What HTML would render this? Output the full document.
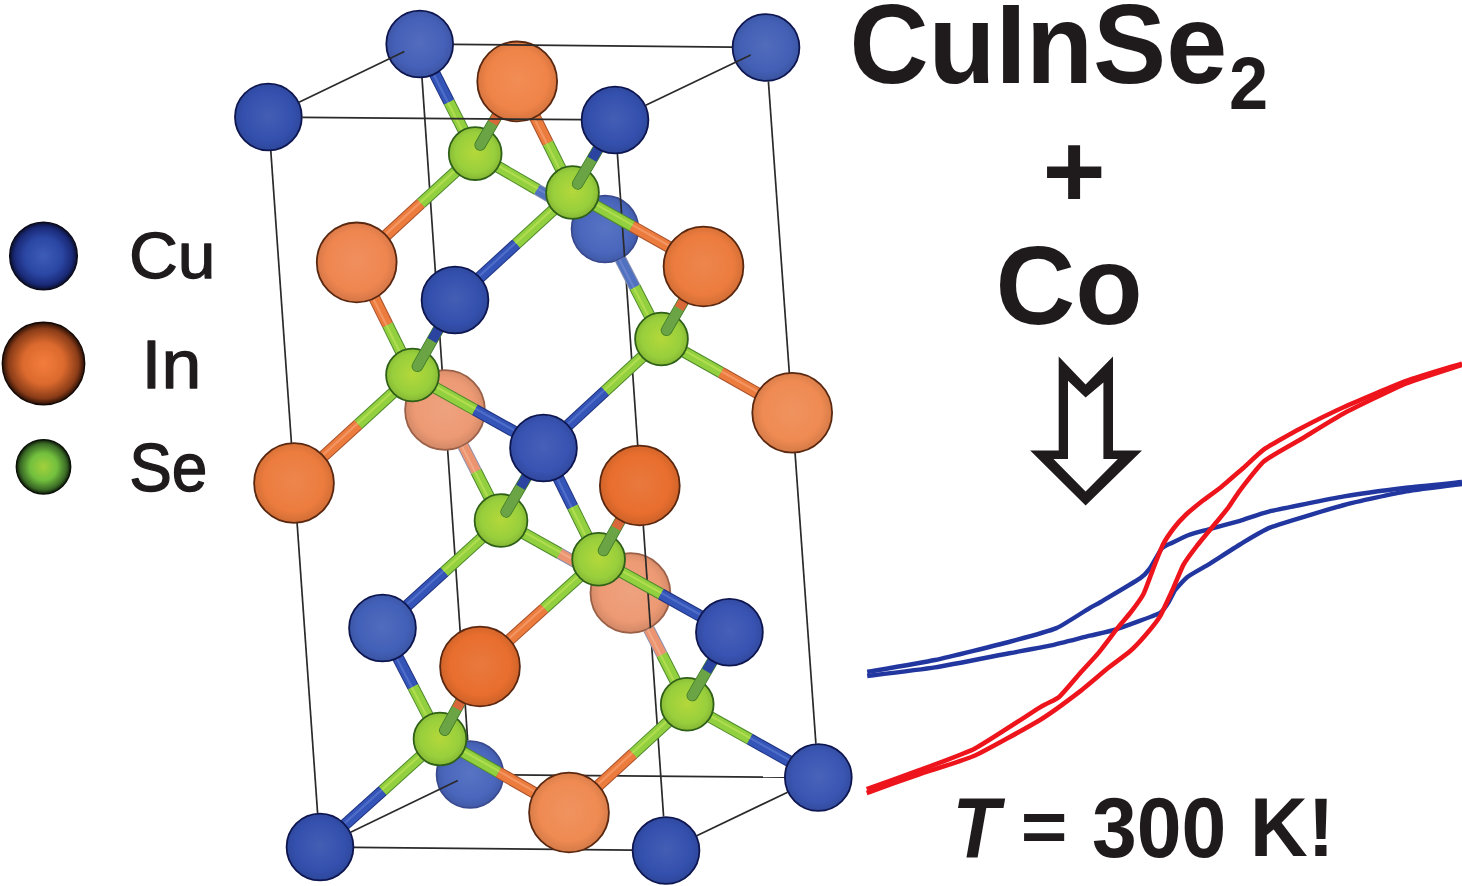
<!DOCTYPE html>
<html><head><meta charset="utf-8"><style>
html,body{margin:0;padding:0;background:#fff;}
body{width:1462px;height:886px;overflow:hidden;}
svg{display:block;}
text{font-family:"Liberation Sans",sans-serif;fill:#1f1b1c;}
</style></head><body>
<svg width="1462" height="886" viewBox="0 0 1462 886">
<defs>
<radialGradient id="g_A" cx="0.5" cy="0.48" r="0.5"><stop offset="0" stop-color="#445eb4"/><stop offset="0.75" stop-color="#3450ae"/><stop offset="1" stop-color="#2e489c"/></radialGradient>
<radialGradient id="g_B" cx="0.5" cy="0.48" r="0.5"><stop offset="0" stop-color="#536cbd"/><stop offset="0.75" stop-color="#4560b8"/><stop offset="1" stop-color="#3e56a5"/></radialGradient>
<radialGradient id="g_C" cx="0.5" cy="0.48" r="0.5"><stop offset="0" stop-color="#445eb4"/><stop offset="0.75" stop-color="#3450ae"/><stop offset="1" stop-color="#2e489c"/></radialGradient>
<radialGradient id="g_D" cx="0.5" cy="0.48" r="0.5"><stop offset="0" stop-color="#526cbb"/><stop offset="0.75" stop-color="#4360b6"/><stop offset="1" stop-color="#3c56a3"/></radialGradient>
<radialGradient id="g_E" cx="0.5" cy="0.48" r="0.5"><stop offset="0" stop-color="#5873c2"/><stop offset="0.75" stop-color="#4a67bd"/><stop offset="1" stop-color="#425caa"/></radialGradient>
<radialGradient id="g_F" cx="0.5" cy="0.48" r="0.5"><stop offset="0" stop-color="#445eb4"/><stop offset="0.75" stop-color="#3450ae"/><stop offset="1" stop-color="#2e489c"/></radialGradient>
<radialGradient id="g_G" cx="0.5" cy="0.48" r="0.5"><stop offset="0" stop-color="#4760b8"/><stop offset="0.75" stop-color="#3853b2"/><stop offset="1" stop-color="#324aa0"/></radialGradient>
<radialGradient id="g_H" cx="0.5" cy="0.48" r="0.5"><stop offset="0" stop-color="#516cbd"/><stop offset="0.75" stop-color="#4260b8"/><stop offset="1" stop-color="#3b56a5"/></radialGradient>
<radialGradient id="g_I" cx="0.5" cy="0.48" r="0.5"><stop offset="0" stop-color="#4760b8"/><stop offset="0.75" stop-color="#3853b2"/><stop offset="1" stop-color="#324aa0"/></radialGradient>
<radialGradient id="g_J" cx="0.5" cy="0.48" r="0.5"><stop offset="0" stop-color="#5873c2"/><stop offset="0.75" stop-color="#4a67bd"/><stop offset="1" stop-color="#425caa"/></radialGradient>
<radialGradient id="g_K" cx="0.5" cy="0.48" r="0.5"><stop offset="0" stop-color="#445eb4"/><stop offset="0.75" stop-color="#3450ae"/><stop offset="1" stop-color="#2e489c"/></radialGradient>
<radialGradient id="g_L" cx="0.5" cy="0.48" r="0.5"><stop offset="0" stop-color="#445eb4"/><stop offset="0.75" stop-color="#3450ae"/><stop offset="1" stop-color="#2e489c"/></radialGradient>
<radialGradient id="g_M" cx="0.5" cy="0.48" r="0.5"><stop offset="0" stop-color="#4963b9"/><stop offset="0.75" stop-color="#3a56b3"/><stop offset="1" stop-color="#344da1"/></radialGradient>
<radialGradient id="g_a" cx="0.5" cy="0.48" r="0.5"><stop offset="0" stop-color="#f18d56"/><stop offset="0.75" stop-color="#f08448"/><stop offset="1" stop-color="#d87640"/></radialGradient>
<radialGradient id="g_b" cx="0.5" cy="0.48" r="0.5"><stop offset="0" stop-color="#f08f5e"/><stop offset="0.75" stop-color="#ef8650"/><stop offset="1" stop-color="#d77848"/></radialGradient>
<radialGradient id="g_c" cx="0.5" cy="0.48" r="0.5"><stop offset="0" stop-color="#ed864d"/><stop offset="0.75" stop-color="#ec7c3e"/><stop offset="1" stop-color="#d46f37"/></radialGradient>
<radialGradient id="g_d" cx="0.5" cy="0.48" r="0.5"><stop offset="0" stop-color="#eea27f"/><stop offset="0.75" stop-color="#ed9a74"/><stop offset="1" stop-color="#d58a68"/></radialGradient>
<radialGradient id="g_e" cx="0.5" cy="0.48" r="0.5"><stop offset="0" stop-color="#f0935f"/><stop offset="0.75" stop-color="#ef8a52"/><stop offset="1" stop-color="#d77c49"/></radialGradient>
<radialGradient id="g_f" cx="0.5" cy="0.48" r="0.5"><stop offset="0" stop-color="#ed864d"/><stop offset="0.75" stop-color="#ec7c3e"/><stop offset="1" stop-color="#d46f37"/></radialGradient>
<radialGradient id="g_g" cx="0.5" cy="0.48" r="0.5"><stop offset="0" stop-color="#e9793e"/><stop offset="0.75" stop-color="#e86e2e"/><stop offset="1" stop-color="#d06329"/></radialGradient>
<radialGradient id="g_h" cx="0.5" cy="0.48" r="0.5"><stop offset="0" stop-color="#eea27f"/><stop offset="0.75" stop-color="#ed9a74"/><stop offset="1" stop-color="#d58a68"/></radialGradient>
<radialGradient id="g_i" cx="0.5" cy="0.48" r="0.5"><stop offset="0" stop-color="#e9793e"/><stop offset="0.75" stop-color="#e86e2e"/><stop offset="1" stop-color="#d06329"/></radialGradient>
<radialGradient id="g_j" cx="0.5" cy="0.48" r="0.5"><stop offset="0" stop-color="#f0935f"/><stop offset="0.75" stop-color="#ef8a52"/><stop offset="1" stop-color="#d77c49"/></radialGradient>
<radialGradient id="g_1" cx="0.5" cy="0.48" r="0.5"><stop offset="0" stop-color="#b4d83a"/><stop offset="0.75" stop-color="#98cf3c"/><stop offset="1" stop-color="#88ba36"/></radialGradient>
<radialGradient id="g_2" cx="0.5" cy="0.48" r="0.5"><stop offset="0" stop-color="#b4d83a"/><stop offset="0.75" stop-color="#98cf3c"/><stop offset="1" stop-color="#88ba36"/></radialGradient>
<radialGradient id="g_3" cx="0.5" cy="0.48" r="0.5"><stop offset="0" stop-color="#b4d83a"/><stop offset="0.75" stop-color="#98cf3c"/><stop offset="1" stop-color="#88ba36"/></radialGradient>
<radialGradient id="g_4" cx="0.5" cy="0.48" r="0.5"><stop offset="0" stop-color="#b4d83a"/><stop offset="0.75" stop-color="#98cf3c"/><stop offset="1" stop-color="#88ba36"/></radialGradient>
<radialGradient id="g_5" cx="0.5" cy="0.48" r="0.5"><stop offset="0" stop-color="#b4d83a"/><stop offset="0.75" stop-color="#98cf3c"/><stop offset="1" stop-color="#88ba36"/></radialGradient>
<radialGradient id="g_6" cx="0.5" cy="0.48" r="0.5"><stop offset="0" stop-color="#b4d83a"/><stop offset="0.75" stop-color="#98cf3c"/><stop offset="1" stop-color="#88ba36"/></radialGradient>
<radialGradient id="g_7" cx="0.5" cy="0.48" r="0.5"><stop offset="0" stop-color="#b4d83a"/><stop offset="0.75" stop-color="#98cf3c"/><stop offset="1" stop-color="#88ba36"/></radialGradient>
<radialGradient id="g_8" cx="0.5" cy="0.48" r="0.5"><stop offset="0" stop-color="#b4d83a"/><stop offset="0.75" stop-color="#98cf3c"/><stop offset="1" stop-color="#88ba36"/></radialGradient>

<radialGradient id="lg_cu" cx="0.5" cy="0.5" r="0.5"><stop offset="0" stop-color="#3d5cb8"/><stop offset="0.55" stop-color="#2b47a4"/><stop offset="0.85" stop-color="#1a2a78"/><stop offset="1" stop-color="#0a1030"/></radialGradient>
<radialGradient id="lg_in" cx="0.5" cy="0.5" r="0.5"><stop offset="0" stop-color="#f47d3c"/><stop offset="0.5" stop-color="#dc6a2e"/><stop offset="0.85" stop-color="#8a3c18"/><stop offset="1" stop-color="#2a1006"/></radialGradient>
<radialGradient id="lg_se" cx="0.5" cy="0.5" r="0.5"><stop offset="0" stop-color="#a2d03c"/><stop offset="0.5" stop-color="#72c03e"/><stop offset="0.85" stop-color="#3a6a26"/><stop offset="1" stop-color="#0e1a08"/></radialGradient>

</defs>
<rect width="1462" height="886" fill="#fff"/>
<circle cx="43.5" cy="256" r="33.8" fill="url(#lg_cu)" stroke="#0a0a1a" stroke-width="1.4"/>
<circle cx="43.5" cy="363.5" r="41.2" fill="url(#lg_in)" stroke="#140804" stroke-width="1.4"/>
<circle cx="43.5" cy="466.8" r="27.2" fill="url(#lg_se)" stroke="#0a1206" stroke-width="1.4"/>
<line x1="422.0" y1="77.9" x2="467.7" y2="740.6" stroke="#2a2a2a" stroke-width="1.7" stroke-linecap="butt"/>
<line x1="768.4" y1="81.4" x2="815.9" y2="743.6" stroke="#2a2a2a" stroke-width="1.7" stroke-linecap="butt"/>
<line x1="270.8" y1="150.9" x2="317.6" y2="813.1" stroke="#2a2a2a" stroke-width="1.7" stroke-linecap="butt"/>
<circle cx="605" cy="229" r="33.4" fill="url(#g_E)" stroke="#3a4a90" stroke-width="1.8"/>
<circle cx="470" cy="774.5" r="33.4" fill="url(#g_J)" stroke="#3a4a90" stroke-width="1.8"/>
<circle cx="445" cy="410" r="39.9" fill="url(#g_d)" stroke="#9a6048" stroke-width="1.8"/>
<circle cx="630.4" cy="593" r="39.9" fill="url(#g_h)" stroke="#9a6048" stroke-width="1.8"/>
<line x1="617.4" y1="153.9" x2="663.6" y2="816.6" stroke="#2a2a2a" stroke-width="1.7" stroke-linecap="butt"/>
<line x1="504.0" y1="774.8" x2="784.3" y2="777.2" stroke="#2a2a2a" stroke-width="1.7" stroke-linecap="butt"/>
<line x1="350.6" y1="832.2" x2="457.8" y2="780.4" stroke="#2a2a2a" stroke-width="1.7" stroke-linecap="butt"/>
<line x1="354.0" y1="847.3" x2="632.0" y2="850.2" stroke="#2a2a2a" stroke-width="1.7" stroke-linecap="butt"/>
<line x1="696.7" y1="835.8" x2="787.6" y2="792.2" stroke="#2a2a2a" stroke-width="1.7" stroke-linecap="butt"/>
<line x1="467.9" y1="139.1" x2="449.0" y2="101.9" stroke="#4e8a2a" stroke-width="12" stroke-linecap="butt"/>
<line x1="449.0" y1="101.9" x2="428.9" y2="62.2" stroke="#1e3280" stroke-width="12" stroke-linecap="butt"/>
<line x1="467.9" y1="139.1" x2="449.0" y2="101.9" stroke="#92d040" stroke-width="10" stroke-linecap="butt"/>
<line x1="449.0" y1="101.9" x2="428.9" y2="62.2" stroke="#3554b8" stroke-width="10" stroke-linecap="butt"/>
<line x1="466.8" y1="139.7" x2="448.0" y2="102.5" stroke="#b8e050" stroke-width="2.2" stroke-linecap="butt" stroke-opacity="0.8"/>
<line x1="448.0" y1="102.5" x2="427.8" y2="62.7" stroke="#5a78d0" stroke-width="2.2" stroke-linecap="butt" stroke-opacity="0.7"/>
<line x1="463.3" y1="164.6" x2="420.9" y2="203.4" stroke="#4e8a2a" stroke-width="12" stroke-linecap="butt"/>
<line x1="420.9" y1="203.4" x2="374.6" y2="246.0" stroke="#a8502a" stroke-width="12" stroke-linecap="butt"/>
<line x1="463.3" y1="164.6" x2="420.9" y2="203.4" stroke="#92d040" stroke-width="10" stroke-linecap="butt"/>
<line x1="420.9" y1="203.4" x2="374.6" y2="246.0" stroke="#ec7c3e" stroke-width="10" stroke-linecap="butt"/>
<line x1="462.5" y1="163.7" x2="420.1" y2="202.6" stroke="#b8e050" stroke-width="2.2" stroke-linecap="butt" stroke-opacity="0.8"/>
<line x1="420.1" y1="202.6" x2="373.8" y2="245.1" stroke="#f6a070" stroke-width="2.2" stroke-linecap="butt" stroke-opacity="0.7"/>
<line x1="489.2" y1="161.7" x2="537.1" y2="189.5" stroke="#4e8a2a" stroke-width="12" stroke-linecap="butt"/>
<line x1="537.1" y1="189.5" x2="575.6" y2="211.9" stroke="#8a90b0" stroke-width="12" stroke-linecap="butt"/>
<line x1="489.2" y1="161.7" x2="537.1" y2="189.5" stroke="#92d040" stroke-width="10" stroke-linecap="butt"/>
<line x1="537.1" y1="189.5" x2="575.6" y2="211.9" stroke="#5070c0" stroke-width="10" stroke-linecap="butt"/>
<line x1="489.8" y1="160.7" x2="537.7" y2="188.5" stroke="#b8e050" stroke-width="2.2" stroke-linecap="butt" stroke-opacity="0.8"/>
<line x1="537.7" y1="188.5" x2="576.2" y2="210.9" stroke="#7088d0" stroke-width="2.2" stroke-linecap="butt" stroke-opacity="0.7"/>
<line x1="565.3" y1="178.0" x2="547.9" y2="143.0" stroke="#4e8a2a" stroke-width="12" stroke-linecap="butt"/>
<line x1="547.9" y1="143.0" x2="528.0" y2="103.2" stroke="#a8502a" stroke-width="12" stroke-linecap="butt"/>
<line x1="565.3" y1="178.0" x2="547.9" y2="143.0" stroke="#92d040" stroke-width="10" stroke-linecap="butt"/>
<line x1="547.9" y1="143.0" x2="528.0" y2="103.2" stroke="#ec7c3e" stroke-width="10" stroke-linecap="butt"/>
<line x1="564.2" y1="178.5" x2="546.8" y2="143.5" stroke="#b8e050" stroke-width="2.2" stroke-linecap="butt" stroke-opacity="0.8"/>
<line x1="546.8" y1="143.5" x2="527.0" y2="103.7" stroke="#f6a070" stroke-width="2.2" stroke-linecap="butt" stroke-opacity="0.7"/>
<line x1="560.5" y1="203.4" x2="516.3" y2="243.9" stroke="#4e8a2a" stroke-width="12" stroke-linecap="butt"/>
<line x1="516.3" y1="243.9" x2="470.1" y2="286.2" stroke="#1e3280" stroke-width="12" stroke-linecap="butt"/>
<line x1="560.5" y1="203.4" x2="516.3" y2="243.9" stroke="#92d040" stroke-width="10" stroke-linecap="butt"/>
<line x1="516.3" y1="243.9" x2="470.1" y2="286.2" stroke="#3554b8" stroke-width="10" stroke-linecap="butt"/>
<line x1="559.7" y1="202.5" x2="515.5" y2="243.0" stroke="#b8e050" stroke-width="2.2" stroke-linecap="butt" stroke-opacity="0.8"/>
<line x1="515.5" y1="243.0" x2="469.2" y2="285.3" stroke="#5a78d0" stroke-width="2.2" stroke-linecap="butt" stroke-opacity="0.7"/>
<line x1="586.6" y1="200.5" x2="632.1" y2="226.2" stroke="#4e8a2a" stroke-width="12" stroke-linecap="butt"/>
<line x1="632.1" y1="226.2" x2="682.3" y2="254.5" stroke="#a8502a" stroke-width="12" stroke-linecap="butt"/>
<line x1="586.6" y1="200.5" x2="632.1" y2="226.2" stroke="#92d040" stroke-width="10" stroke-linecap="butt"/>
<line x1="632.1" y1="226.2" x2="682.3" y2="254.5" stroke="#ec7c3e" stroke-width="10" stroke-linecap="butt"/>
<line x1="587.2" y1="199.4" x2="632.7" y2="225.1" stroke="#b8e050" stroke-width="2.2" stroke-linecap="butt" stroke-opacity="0.8"/>
<line x1="632.7" y1="225.1" x2="682.9" y2="253.5" stroke="#f6a070" stroke-width="2.2" stroke-linecap="butt" stroke-opacity="0.7"/>
<line x1="654.1" y1="324.6" x2="634.8" y2="287.1" stroke="#4e8a2a" stroke-width="12" stroke-linecap="butt"/>
<line x1="634.8" y1="287.1" x2="620.5" y2="259.2" stroke="#8a90b0" stroke-width="12" stroke-linecap="butt"/>
<line x1="654.1" y1="324.6" x2="634.8" y2="287.1" stroke="#92d040" stroke-width="10" stroke-linecap="butt"/>
<line x1="634.8" y1="287.1" x2="620.5" y2="259.2" stroke="#5070c0" stroke-width="10" stroke-linecap="butt"/>
<line x1="653.0" y1="325.1" x2="633.8" y2="287.7" stroke="#b8e050" stroke-width="2.2" stroke-linecap="butt" stroke-opacity="0.8"/>
<line x1="633.8" y1="287.7" x2="619.5" y2="259.8" stroke="#7088d0" stroke-width="2.2" stroke-linecap="butt" stroke-opacity="0.7"/>
<line x1="675.6" y1="347.0" x2="721.0" y2="372.5" stroke="#4e8a2a" stroke-width="12" stroke-linecap="butt"/>
<line x1="721.0" y1="372.5" x2="771.0" y2="400.8" stroke="#a8502a" stroke-width="12" stroke-linecap="butt"/>
<line x1="675.6" y1="347.0" x2="721.0" y2="372.5" stroke="#92d040" stroke-width="10" stroke-linecap="butt"/>
<line x1="721.0" y1="372.5" x2="771.0" y2="400.8" stroke="#ec7c3e" stroke-width="10" stroke-linecap="butt"/>
<line x1="676.2" y1="345.9" x2="721.6" y2="371.5" stroke="#b8e050" stroke-width="2.2" stroke-linecap="butt" stroke-opacity="0.8"/>
<line x1="721.6" y1="371.5" x2="771.6" y2="399.7" stroke="#f6a070" stroke-width="2.2" stroke-linecap="butt" stroke-opacity="0.7"/>
<line x1="649.6" y1="350.0" x2="605.1" y2="391.1" stroke="#4e8a2a" stroke-width="12" stroke-linecap="butt"/>
<line x1="605.1" y1="391.1" x2="558.5" y2="434.2" stroke="#1e3280" stroke-width="12" stroke-linecap="butt"/>
<line x1="649.6" y1="350.0" x2="605.1" y2="391.1" stroke="#92d040" stroke-width="10" stroke-linecap="butt"/>
<line x1="605.1" y1="391.1" x2="558.5" y2="434.2" stroke="#3554b8" stroke-width="10" stroke-linecap="butt"/>
<line x1="648.8" y1="349.1" x2="604.3" y2="390.2" stroke="#b8e050" stroke-width="2.2" stroke-linecap="butt" stroke-opacity="0.8"/>
<line x1="604.3" y1="390.2" x2="557.7" y2="433.3" stroke="#5a78d0" stroke-width="2.2" stroke-linecap="butt" stroke-opacity="0.7"/>
<line x1="405.3" y1="360.5" x2="387.6" y2="324.7" stroke="#4e8a2a" stroke-width="12" stroke-linecap="butt"/>
<line x1="387.6" y1="324.7" x2="367.5" y2="284.2" stroke="#a8502a" stroke-width="12" stroke-linecap="butt"/>
<line x1="405.3" y1="360.5" x2="387.6" y2="324.7" stroke="#92d040" stroke-width="10" stroke-linecap="butt"/>
<line x1="387.6" y1="324.7" x2="367.5" y2="284.2" stroke="#ec7c3e" stroke-width="10" stroke-linecap="butt"/>
<line x1="404.2" y1="361.0" x2="386.5" y2="325.3" stroke="#b8e050" stroke-width="2.2" stroke-linecap="butt" stroke-opacity="0.8"/>
<line x1="386.5" y1="325.3" x2="366.4" y2="284.7" stroke="#f6a070" stroke-width="2.2" stroke-linecap="butt" stroke-opacity="0.7"/>
<line x1="400.5" y1="385.9" x2="358.2" y2="424.5" stroke="#4e8a2a" stroke-width="12" stroke-linecap="butt"/>
<line x1="358.2" y1="424.5" x2="312.0" y2="466.6" stroke="#a8502a" stroke-width="12" stroke-linecap="butt"/>
<line x1="400.5" y1="385.9" x2="358.2" y2="424.5" stroke="#92d040" stroke-width="10" stroke-linecap="butt"/>
<line x1="358.2" y1="424.5" x2="312.0" y2="466.6" stroke="#ec7c3e" stroke-width="10" stroke-linecap="butt"/>
<line x1="399.7" y1="385.0" x2="357.4" y2="423.6" stroke="#b8e050" stroke-width="2.2" stroke-linecap="butt" stroke-opacity="0.8"/>
<line x1="357.4" y1="423.6" x2="311.2" y2="465.7" stroke="#f6a070" stroke-width="2.2" stroke-linecap="butt" stroke-opacity="0.7"/>
<line x1="426.7" y1="382.9" x2="474.9" y2="409.8" stroke="#4e8a2a" stroke-width="12" stroke-linecap="butt"/>
<line x1="474.9" y1="409.8" x2="525.7" y2="438.1" stroke="#1e3280" stroke-width="12" stroke-linecap="butt"/>
<line x1="426.7" y1="382.9" x2="474.9" y2="409.8" stroke="#92d040" stroke-width="10" stroke-linecap="butt"/>
<line x1="474.9" y1="409.8" x2="525.7" y2="438.1" stroke="#3554b8" stroke-width="10" stroke-linecap="butt"/>
<line x1="427.2" y1="381.8" x2="475.5" y2="408.7" stroke="#b8e050" stroke-width="2.2" stroke-linecap="butt" stroke-opacity="0.8"/>
<line x1="475.5" y1="408.7" x2="526.3" y2="437.0" stroke="#5a78d0" stroke-width="2.2" stroke-linecap="butt" stroke-opacity="0.7"/>
<line x1="493.7" y1="506.0" x2="476.1" y2="471.3" stroke="#4e8a2a" stroke-width="12" stroke-linecap="butt"/>
<line x1="476.1" y1="471.3" x2="463.3" y2="446.1" stroke="#8a90b0" stroke-width="12" stroke-linecap="butt"/>
<line x1="493.7" y1="506.0" x2="476.1" y2="471.3" stroke="#92d040" stroke-width="10" stroke-linecap="butt"/>
<line x1="476.1" y1="471.3" x2="463.3" y2="446.1" stroke="#ec9470" stroke-width="10" stroke-linecap="butt"/>
<line x1="492.6" y1="506.6" x2="475.0" y2="471.8" stroke="#b8e050" stroke-width="2.2" stroke-linecap="butt" stroke-opacity="0.8"/>
<line x1="475.0" y1="471.8" x2="462.2" y2="446.7" stroke="#f4b090" stroke-width="2.2" stroke-linecap="butt" stroke-opacity="0.7"/>
<line x1="489.0" y1="531.4" x2="444.3" y2="571.9" stroke="#4e8a2a" stroke-width="12" stroke-linecap="butt"/>
<line x1="444.3" y1="571.9" x2="397.6" y2="614.3" stroke="#1e3280" stroke-width="12" stroke-linecap="butt"/>
<line x1="489.0" y1="531.4" x2="444.3" y2="571.9" stroke="#92d040" stroke-width="10" stroke-linecap="butt"/>
<line x1="444.3" y1="571.9" x2="397.6" y2="614.3" stroke="#3554b8" stroke-width="10" stroke-linecap="butt"/>
<line x1="488.2" y1="530.5" x2="443.5" y2="571.0" stroke="#b8e050" stroke-width="2.2" stroke-linecap="butt" stroke-opacity="0.8"/>
<line x1="443.5" y1="571.0" x2="396.8" y2="613.4" stroke="#5a78d0" stroke-width="2.2" stroke-linecap="butt" stroke-opacity="0.7"/>
<line x1="515.1" y1="528.4" x2="559.8" y2="553.5" stroke="#4e8a2a" stroke-width="12" stroke-linecap="butt"/>
<line x1="559.8" y1="553.5" x2="595.1" y2="573.2" stroke="#8a90b0" stroke-width="12" stroke-linecap="butt"/>
<line x1="515.1" y1="528.4" x2="559.8" y2="553.5" stroke="#92d040" stroke-width="10" stroke-linecap="butt"/>
<line x1="559.8" y1="553.5" x2="595.1" y2="573.2" stroke="#ec9470" stroke-width="10" stroke-linecap="butt"/>
<line x1="515.7" y1="527.4" x2="560.4" y2="552.4" stroke="#b8e050" stroke-width="2.2" stroke-linecap="butt" stroke-opacity="0.8"/>
<line x1="560.4" y1="552.4" x2="595.7" y2="572.2" stroke="#f4b090" stroke-width="2.2" stroke-linecap="butt" stroke-opacity="0.7"/>
<line x1="591.4" y1="544.8" x2="572.6" y2="506.8" stroke="#4e8a2a" stroke-width="12" stroke-linecap="butt"/>
<line x1="572.6" y1="506.8" x2="552.6" y2="466.3" stroke="#1e3280" stroke-width="12" stroke-linecap="butt"/>
<line x1="591.4" y1="544.8" x2="572.6" y2="506.8" stroke="#92d040" stroke-width="10" stroke-linecap="butt"/>
<line x1="572.6" y1="506.8" x2="552.6" y2="466.3" stroke="#3554b8" stroke-width="10" stroke-linecap="butt"/>
<line x1="590.3" y1="545.3" x2="571.5" y2="507.3" stroke="#b8e050" stroke-width="2.2" stroke-linecap="butt" stroke-opacity="0.8"/>
<line x1="571.5" y1="507.3" x2="551.5" y2="466.8" stroke="#5a78d0" stroke-width="2.2" stroke-linecap="butt" stroke-opacity="0.7"/>
<line x1="612.8" y1="567.2" x2="660.9" y2="594.0" stroke="#4e8a2a" stroke-width="12" stroke-linecap="butt"/>
<line x1="660.9" y1="594.0" x2="711.6" y2="622.3" stroke="#1e3280" stroke-width="12" stroke-linecap="butt"/>
<line x1="612.8" y1="567.2" x2="660.9" y2="594.0" stroke="#92d040" stroke-width="10" stroke-linecap="butt"/>
<line x1="660.9" y1="594.0" x2="711.6" y2="622.3" stroke="#3554b8" stroke-width="10" stroke-linecap="butt"/>
<line x1="613.3" y1="566.1" x2="661.5" y2="593.0" stroke="#b8e050" stroke-width="2.2" stroke-linecap="butt" stroke-opacity="0.8"/>
<line x1="661.5" y1="593.0" x2="712.2" y2="621.2" stroke="#5a78d0" stroke-width="2.2" stroke-linecap="butt" stroke-opacity="0.7"/>
<line x1="586.6" y1="570.2" x2="544.3" y2="608.4" stroke="#4e8a2a" stroke-width="12" stroke-linecap="butt"/>
<line x1="544.3" y1="608.4" x2="498.0" y2="650.2" stroke="#a8502a" stroke-width="12" stroke-linecap="butt"/>
<line x1="586.6" y1="570.2" x2="544.3" y2="608.4" stroke="#92d040" stroke-width="10" stroke-linecap="butt"/>
<line x1="544.3" y1="608.4" x2="498.0" y2="650.2" stroke="#ec7c3e" stroke-width="10" stroke-linecap="butt"/>
<line x1="585.8" y1="569.3" x2="543.5" y2="607.5" stroke="#b8e050" stroke-width="2.2" stroke-linecap="butt" stroke-opacity="0.8"/>
<line x1="543.5" y1="607.5" x2="497.2" y2="649.3" stroke="#f6a070" stroke-width="2.2" stroke-linecap="butt" stroke-opacity="0.7"/>
<line x1="432.5" y1="724.6" x2="412.9" y2="686.6" stroke="#4e8a2a" stroke-width="12" stroke-linecap="butt"/>
<line x1="412.9" y1="686.6" x2="391.9" y2="646.1" stroke="#1e3280" stroke-width="12" stroke-linecap="butt"/>
<line x1="432.5" y1="724.6" x2="412.9" y2="686.6" stroke="#92d040" stroke-width="10" stroke-linecap="butt"/>
<line x1="412.9" y1="686.6" x2="391.9" y2="646.1" stroke="#3554b8" stroke-width="10" stroke-linecap="butt"/>
<line x1="431.5" y1="725.2" x2="411.8" y2="687.2" stroke="#b8e050" stroke-width="2.2" stroke-linecap="butt" stroke-opacity="0.8"/>
<line x1="411.8" y1="687.2" x2="390.8" y2="646.7" stroke="#5a78d0" stroke-width="2.2" stroke-linecap="butt" stroke-opacity="0.7"/>
<line x1="428.0" y1="749.8" x2="382.6" y2="790.7" stroke="#4e8a2a" stroke-width="12" stroke-linecap="butt"/>
<line x1="382.6" y1="790.7" x2="335.2" y2="833.4" stroke="#1e3280" stroke-width="12" stroke-linecap="butt"/>
<line x1="428.0" y1="749.8" x2="382.6" y2="790.7" stroke="#92d040" stroke-width="10" stroke-linecap="butt"/>
<line x1="382.6" y1="790.7" x2="335.2" y2="833.4" stroke="#3554b8" stroke-width="10" stroke-linecap="butt"/>
<line x1="427.2" y1="748.9" x2="381.8" y2="789.8" stroke="#b8e050" stroke-width="2.2" stroke-linecap="butt" stroke-opacity="0.8"/>
<line x1="381.8" y1="789.8" x2="334.4" y2="832.5" stroke="#5a78d0" stroke-width="2.2" stroke-linecap="butt" stroke-opacity="0.7"/>
<line x1="454.1" y1="747.0" x2="498.6" y2="772.4" stroke="#4e8a2a" stroke-width="12" stroke-linecap="butt"/>
<line x1="498.6" y1="772.4" x2="547.9" y2="800.5" stroke="#a8502a" stroke-width="12" stroke-linecap="butt"/>
<line x1="454.1" y1="747.0" x2="498.6" y2="772.4" stroke="#92d040" stroke-width="10" stroke-linecap="butt"/>
<line x1="498.6" y1="772.4" x2="547.9" y2="800.5" stroke="#ec7c3e" stroke-width="10" stroke-linecap="butt"/>
<line x1="454.7" y1="746.0" x2="499.2" y2="771.4" stroke="#b8e050" stroke-width="2.2" stroke-linecap="butt" stroke-opacity="0.8"/>
<line x1="499.2" y1="771.4" x2="548.5" y2="799.4" stroke="#f6a070" stroke-width="2.2" stroke-linecap="butt" stroke-opacity="0.7"/>
<line x1="679.8" y1="689.8" x2="661.9" y2="654.6" stroke="#4e8a2a" stroke-width="12" stroke-linecap="butt"/>
<line x1="661.9" y1="654.6" x2="648.8" y2="629.1" stroke="#8a90b0" stroke-width="12" stroke-linecap="butt"/>
<line x1="679.8" y1="689.8" x2="661.9" y2="654.6" stroke="#92d040" stroke-width="10" stroke-linecap="butt"/>
<line x1="661.9" y1="654.6" x2="648.8" y2="629.1" stroke="#ec9470" stroke-width="10" stroke-linecap="butt"/>
<line x1="678.8" y1="690.3" x2="660.8" y2="655.2" stroke="#b8e050" stroke-width="2.2" stroke-linecap="butt" stroke-opacity="0.8"/>
<line x1="660.8" y1="655.2" x2="647.8" y2="629.6" stroke="#f4b090" stroke-width="2.2" stroke-linecap="butt" stroke-opacity="0.7"/>
<line x1="675.3" y1="715.1" x2="633.1" y2="753.8" stroke="#4e8a2a" stroke-width="12" stroke-linecap="butt"/>
<line x1="633.1" y1="753.8" x2="586.9" y2="796.1" stroke="#a8502a" stroke-width="12" stroke-linecap="butt"/>
<line x1="675.3" y1="715.1" x2="633.1" y2="753.8" stroke="#92d040" stroke-width="10" stroke-linecap="butt"/>
<line x1="633.1" y1="753.8" x2="586.9" y2="796.1" stroke="#ec7c3e" stroke-width="10" stroke-linecap="butt"/>
<line x1="674.4" y1="714.3" x2="632.3" y2="752.9" stroke="#b8e050" stroke-width="2.2" stroke-linecap="butt" stroke-opacity="0.8"/>
<line x1="632.3" y1="752.9" x2="586.1" y2="795.2" stroke="#f6a070" stroke-width="2.2" stroke-linecap="butt" stroke-opacity="0.7"/>
<line x1="701.3" y1="712.1" x2="749.7" y2="739.1" stroke="#4e8a2a" stroke-width="12" stroke-linecap="butt"/>
<line x1="749.7" y1="739.1" x2="800.5" y2="767.5" stroke="#1e3280" stroke-width="12" stroke-linecap="butt"/>
<line x1="701.3" y1="712.1" x2="749.7" y2="739.1" stroke="#92d040" stroke-width="10" stroke-linecap="butt"/>
<line x1="749.7" y1="739.1" x2="800.5" y2="767.5" stroke="#3554b8" stroke-width="10" stroke-linecap="butt"/>
<line x1="701.9" y1="711.1" x2="750.3" y2="738.1" stroke="#b8e050" stroke-width="2.2" stroke-linecap="butt" stroke-opacity="0.8"/>
<line x1="750.3" y1="738.1" x2="801.1" y2="766.5" stroke="#5a78d0" stroke-width="2.2" stroke-linecap="butt" stroke-opacity="0.7"/>
<circle cx="268.4" cy="117" r="33.4" fill="url(#g_A)" stroke="#0e1650" stroke-width="1.8"/>
<circle cx="419.7" cy="44" r="33.4" fill="url(#g_B)" stroke="#0e1650" stroke-width="1.8"/>
<circle cx="766" cy="47.5" r="33.4" fill="url(#g_D)" stroke="#0e1650" stroke-width="1.8"/>
<circle cx="382.5" cy="628" r="33.4" fill="url(#g_H)" stroke="#0e1650" stroke-width="1.8"/>
<circle cx="320" cy="847" r="33.4" fill="url(#g_K)" stroke="#0e1650" stroke-width="1.8"/>
<circle cx="666" cy="850.5" r="33.4" fill="url(#g_L)" stroke="#0e1650" stroke-width="1.8"/>
<circle cx="818.3" cy="777.5" r="33.4" fill="url(#g_M)" stroke="#0e1650" stroke-width="1.8"/>
<circle cx="356.7" cy="262.4" r="39.9" fill="url(#g_b)" stroke="#5a2810" stroke-width="1.8"/>
<circle cx="792.2" cy="412.7" r="39.9" fill="url(#g_e)" stroke="#5a2810" stroke-width="1.8"/>
<circle cx="294" cy="483" r="39.9" fill="url(#g_f)" stroke="#5a2810" stroke-width="1.8"/>
<circle cx="569" cy="812.5" r="39.9" fill="url(#g_j)" stroke="#5a2810" stroke-width="1.8"/>
<circle cx="475.2" cy="153.6" r="26.4" fill="url(#g_1)" stroke="#2e6018" stroke-width="1.8"/>
<circle cx="572.5" cy="192.5" r="26.4" fill="url(#g_2)" stroke="#2e6018" stroke-width="1.8"/>
<circle cx="661.5" cy="339" r="26.4" fill="url(#g_3)" stroke="#2e6018" stroke-width="1.8"/>
<circle cx="412.5" cy="375" r="26.4" fill="url(#g_4)" stroke="#2e6018" stroke-width="1.8"/>
<circle cx="501" cy="520.5" r="26.4" fill="url(#g_5)" stroke="#2e6018" stroke-width="1.8"/>
<circle cx="598.6" cy="559.3" r="26.4" fill="url(#g_6)" stroke="#2e6018" stroke-width="1.8"/>
<circle cx="440" cy="739" r="26.4" fill="url(#g_7)" stroke="#2e6018" stroke-width="1.8"/>
<circle cx="687.2" cy="704.2" r="26.4" fill="url(#g_8)" stroke="#2e6018" stroke-width="1.8"/>
<line x1="480.2" y1="145.0" x2="502.9" y2="105.9" stroke="#3e7a28" stroke-width="11.5" stroke-linecap="round"/>
<line x1="480.2" y1="145.0" x2="492.8" y2="123.3" stroke="#6aa444" stroke-width="10" stroke-linecap="round"/>
<line x1="492.8" y1="123.3" x2="502.9" y2="105.9" stroke="#d8683a" stroke-width="10" stroke-linecap="butt"/>
<line x1="577.6" y1="183.9" x2="603.0" y2="140.5" stroke="#3e7a28" stroke-width="11.5" stroke-linecap="round"/>
<line x1="577.6" y1="183.9" x2="592.0" y2="159.3" stroke="#6aa444" stroke-width="10" stroke-linecap="round"/>
<line x1="592.0" y1="159.3" x2="603.0" y2="140.5" stroke="#2a44a0" stroke-width="10" stroke-linecap="butt"/>
<line x1="666.5" y1="330.3" x2="689.3" y2="291.0" stroke="#3e7a28" stroke-width="11.5" stroke-linecap="round"/>
<line x1="666.5" y1="330.3" x2="679.1" y2="308.6" stroke="#6aa444" stroke-width="10" stroke-linecap="round"/>
<line x1="679.1" y1="308.6" x2="689.3" y2="291.0" stroke="#d8683a" stroke-width="10" stroke-linecap="butt"/>
<line x1="417.4" y1="366.3" x2="443.3" y2="320.7" stroke="#3e7a28" stroke-width="11.5" stroke-linecap="round"/>
<line x1="417.4" y1="366.3" x2="432.0" y2="340.5" stroke="#6aa444" stroke-width="10" stroke-linecap="round"/>
<line x1="432.0" y1="340.5" x2="443.3" y2="320.7" stroke="#2a44a0" stroke-width="10" stroke-linecap="butt"/>
<line x1="506.1" y1="511.9" x2="531.5" y2="468.5" stroke="#3e7a28" stroke-width="11.5" stroke-linecap="round"/>
<line x1="506.1" y1="511.9" x2="520.5" y2="487.3" stroke="#6aa444" stroke-width="10" stroke-linecap="round"/>
<line x1="520.5" y1="487.3" x2="531.5" y2="468.5" stroke="#2a44a0" stroke-width="10" stroke-linecap="butt"/>
<line x1="603.5" y1="550.6" x2="626.0" y2="510.3" stroke="#3e7a28" stroke-width="11.5" stroke-linecap="round"/>
<line x1="603.5" y1="550.6" x2="615.9" y2="528.3" stroke="#6aa444" stroke-width="10" stroke-linecap="round"/>
<line x1="615.9" y1="528.3" x2="626.0" y2="510.3" stroke="#d8683a" stroke-width="10" stroke-linecap="butt"/>
<line x1="444.8" y1="730.2" x2="466.3" y2="691.3" stroke="#3e7a28" stroke-width="11.5" stroke-linecap="round"/>
<line x1="444.8" y1="730.2" x2="456.7" y2="708.7" stroke="#6aa444" stroke-width="10" stroke-linecap="round"/>
<line x1="456.7" y1="708.7" x2="466.3" y2="691.3" stroke="#d8683a" stroke-width="10" stroke-linecap="butt"/>
<line x1="692.3" y1="695.6" x2="717.4" y2="652.7" stroke="#3e7a28" stroke-width="11.5" stroke-linecap="round"/>
<line x1="692.3" y1="695.6" x2="706.5" y2="671.2" stroke="#6aa444" stroke-width="10" stroke-linecap="round"/>
<line x1="706.5" y1="671.2" x2="717.4" y2="652.7" stroke="#2a44a0" stroke-width="10" stroke-linecap="butt"/>
<circle cx="615" cy="120" r="33.4" fill="url(#g_C)" stroke="#0e1650" stroke-width="1.8"/>
<circle cx="455" cy="300" r="33.4" fill="url(#g_F)" stroke="#0e1650" stroke-width="1.8"/>
<circle cx="543.5" cy="448" r="33.4" fill="url(#g_G)" stroke="#0e1650" stroke-width="1.8"/>
<circle cx="729.4" cy="632.2" r="33.4" fill="url(#g_I)" stroke="#0e1650" stroke-width="1.8"/>
<circle cx="517.2" cy="81.4" r="39.9" fill="url(#g_a)" stroke="#5a2810" stroke-width="1.8"/>
<circle cx="703.5" cy="266.5" r="39.9" fill="url(#g_c)" stroke="#5a2810" stroke-width="1.8"/>
<circle cx="639.8" cy="485.5" r="39.9" fill="url(#g_g)" stroke="#5a2810" stroke-width="1.8"/>
<circle cx="480" cy="666.5" r="39.9" fill="url(#g_i)" stroke="#5a2810" stroke-width="1.8"/>
<line x1="299.0" y1="102.2" x2="404.4" y2="51.4" stroke="#2a2a2a" stroke-width="1.7" stroke-linecap="butt"/>
<line x1="453.7" y1="44.3" x2="732.0" y2="47.2" stroke="#2a2a2a" stroke-width="1.7" stroke-linecap="butt"/>
<line x1="645.7" y1="105.3" x2="750.7" y2="54.9" stroke="#2a2a2a" stroke-width="1.7" stroke-linecap="butt"/>
<line x1="302.4" y1="117.3" x2="581.0" y2="119.7" stroke="#2a2a2a" stroke-width="1.7" stroke-linecap="butt"/>
<path fill="none" stroke="#2236a0" stroke-width="4.4" stroke-linejoin="round" d="M867.2,672.0 C872.9,671.0 923.0,662.5 935.0,660.0 C947.0,657.5 1000.5,644.2 1010.6,641.5 C1020.7,638.8 1049.8,630.9 1056.4,628.1 C1063.0,625.3 1086.3,610.0 1090.0,607.8 C1093.7,605.6 1096.5,604.5 1100.7,602.0 C1104.9,599.5 1135.9,581.2 1140.0,578.4 C1144.1,575.6 1147.7,571.4 1149.5,568.9 C1151.3,566.4 1159.9,550.7 1161.7,548.6 C1163.5,546.5 1168.9,544.3 1171.2,543.2 C1173.5,542.1 1185.8,536.1 1188.8,535.0 C1191.8,533.9 1203.5,530.8 1207.8,529.6 C1212.1,528.4 1234.8,522.3 1240.0,520.8 C1245.2,519.3 1260.9,513.3 1269.6,511.3 C1278.3,509.3 1332.7,498.4 1344.1,496.4 C1355.5,494.4 1396.4,488.9 1406.2,487.7 C1416.0,486.5 1457.3,482.5 1462.0,482.0"/>
<path fill="none" stroke="#2236a0" stroke-width="4.4" stroke-linejoin="round" d="M867.2,676.0 C872.9,675.3 923.0,669.3 935.0,667.4 C947.0,665.5 1000.9,654.8 1010.6,653.0 C1020.3,651.2 1044.7,646.8 1051.3,645.4 C1057.9,644.0 1084.6,637.0 1090.0,635.7 C1095.4,634.4 1110.3,631.3 1116.1,629.4 C1121.9,627.5 1155.1,615.4 1159.5,613.1 C1163.9,610.8 1167.3,604.2 1168.6,602.3 C1169.9,600.4 1173.6,592.1 1175.2,590.0 C1176.8,587.9 1184.7,579.1 1187.4,577.0 C1190.1,574.9 1203.4,567.6 1207.8,564.9 C1212.2,562.2 1234.8,547.6 1240.0,544.5 C1245.2,541.4 1261.9,530.7 1270.6,527.4 C1279.3,524.1 1332.8,508.0 1344.1,505.0 C1355.4,502.0 1396.4,493.1 1406.2,491.4 C1416.0,489.6 1457.3,484.6 1462.0,484.0"/>
<path fill="none" stroke="#ee141c" stroke-width="4.6" stroke-linejoin="round" d="M866.7,789.2 C871.1,787.6 911.0,773.4 920.0,770.0 C929.0,766.6 965.0,753.7 975.0,748.5 C985.0,743.3 1033.0,711.7 1040.0,707.4 C1047.0,703.1 1055.8,699.8 1059.1,697.0 C1062.4,694.2 1076.8,676.9 1080.0,673.3 C1083.2,669.7 1095.1,657.0 1098.1,653.4 C1101.1,649.8 1113.4,633.4 1116.1,629.9 C1118.8,626.4 1128.7,615.0 1131.0,612.0 C1133.3,609.0 1141.6,597.7 1143.5,594.0 C1145.4,590.3 1152.0,571.7 1153.6,567.6 C1155.2,563.5 1161.3,547.8 1163.0,544.5 C1164.7,541.2 1172.0,530.5 1173.9,528.0 C1175.8,525.5 1183.7,516.8 1186.1,514.5 C1188.5,512.2 1199.4,503.3 1202.3,501.0 C1205.2,498.7 1218.0,489.7 1221.3,487.0 C1224.6,484.3 1238.6,472.1 1242.2,469.0 C1245.8,465.9 1259.5,452.6 1264.3,449.2 C1269.1,445.8 1293.3,432.2 1300.0,428.7 C1306.7,425.2 1335.2,411.0 1344.1,407.0 C1352.9,403.0 1396.4,384.6 1406.2,381.0 C1416.0,377.4 1457.3,365.1 1462.0,363.6"/>
<path fill="none" stroke="#ee141c" stroke-width="4.6" stroke-linejoin="round" d="M866.7,793.0 C871.1,791.4 911.0,777.1 920.0,774.0 C929.0,770.9 965.0,760.0 975.0,755.5 C985.0,751.0 1031.2,725.3 1040.0,720.0 C1048.8,714.7 1074.4,695.7 1080.0,691.4 C1085.6,687.1 1103.0,672.1 1107.1,668.8 C1111.2,665.5 1126.5,654.4 1129.7,651.6 C1132.9,648.8 1143.1,637.9 1145.6,635.0 C1148.1,632.1 1157.8,620.1 1160.0,616.4 C1162.2,612.6 1170.5,594.3 1172.5,590.0 C1174.5,585.7 1181.4,568.6 1183.4,564.9 C1185.4,561.2 1194.2,549.4 1196.9,545.9 C1199.6,542.4 1213.3,526.0 1215.9,522.8 C1218.5,519.6 1226.1,510.6 1228.1,507.9 C1230.1,505.2 1237.0,494.2 1240.0,490.3 C1243.0,486.4 1259.3,465.3 1264.3,461.1 C1269.3,456.9 1293.3,443.8 1300.0,439.8 C1306.7,435.8 1335.2,417.9 1344.1,413.2 C1352.9,408.5 1396.4,387.4 1406.2,383.4 C1416.0,379.4 1457.3,366.4 1462.0,364.8"/>

<path fill="#1f1b1c" fill-rule="evenodd" d="M1058.7,356.5 L1085.6,384.5 L1113,356.5 L1113,450.6 L1142,450.6 L1085.6,505.5 L1030.2,450.6 L1058.7,450.6 Z M1068,380.7 L1068,459 L1053.5,459 L1085.6,491.5 L1117.8,459 L1103.4,459 L1103.4,382.6 L1085.6,397.5 Z"/>
<text transform="translate(849.41,82.50) scale(1.0970,1.1357)" font-size="100" font-weight="bold" font-style="normal">CuInSe</text>
<text transform="translate(1229.09,109.20) scale(0.7041,0.7386)" font-size="100" font-weight="bold" font-style="normal">2</text>
<text transform="translate(1042.57,206.59) scale(1.0820,1.0490)" font-size="100" font-weight="bold" font-style="normal">+</text>
<text transform="translate(995.48,324.18) scale(1.1048,1.1211)" font-size="100" font-weight="bold" font-style="normal">Co</text>
<text transform="translate(952.58,856.80) scale(0.7738,0.8522)" font-size="100" font-weight="bold" font-style="italic">T</text>
<text transform="translate(1020.80,851.08) scale(0.8000,0.7132)" font-size="100" font-weight="bold" font-style="normal">=</text>
<text transform="translate(1092.09,857.45) scale(0.8050,0.8479)" font-size="100" font-weight="bold" font-style="normal">300</text>
<text transform="translate(1250.01,856.10) scale(0.7989,0.8319)" font-size="100" font-weight="bold" font-style="normal">K!</text>
<text transform="translate(128.97,277.90) scale(0.6767,0.6507)" font-size="100" font-weight="normal" font-style="normal" stroke="#1f1b1c" stroke-width="1.96" stroke-linejoin="round">Cu</text>
<text transform="translate(141.50,387.55) scale(0.7162,0.6797)" font-size="100" font-weight="normal" font-style="normal" stroke="#1f1b1c" stroke-width="1.86" stroke-linejoin="round">In</text>
<text transform="translate(129.15,490.87) scale(0.6398,0.6803)" font-size="100" font-weight="normal" font-style="normal" stroke="#1f1b1c" stroke-width="1.97" stroke-linejoin="round">Se</text>
</svg>
</body></html>
